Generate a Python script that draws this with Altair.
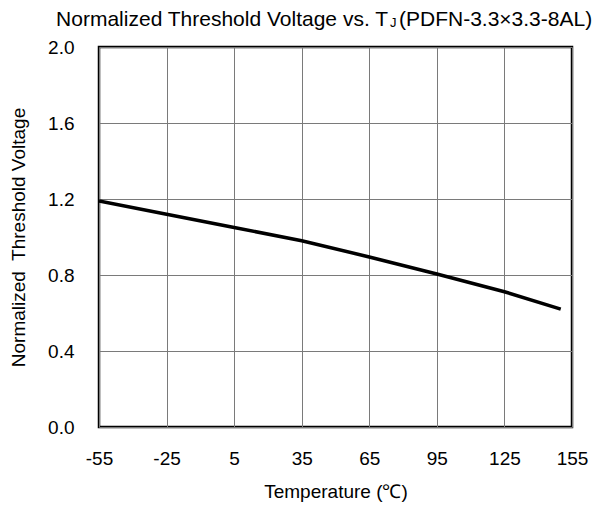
import altair as alt
import pandas as pd

temps = [-55, -25, 5, 35, 65, 95, 125, 150]
vth = [1.19, 1.12, 1.05, 0.98, 0.895, 0.805, 0.712, 0.62]
x_ticks = [-55, -25, 5, 35, 65, 95, 125, 155]
y_ticks = [0.0, 0.4, 0.8, 1.2, 1.6, 2.0]

df = pd.DataFrame({"t": temps, "v": vth})
one = pd.DataFrame({"k": [0]})
FONT = "Liberation Sans"
FS = 19

line = alt.Chart(df).mark_line(color="black", strokeWidth=3.5, clip=True).encode(
    x=alt.X("t:Q", scale=alt.Scale(domain=[-55, 155], nice=False),
            axis=alt.Axis(values=x_ticks, title="Temperature (℃)", grid=True,
                          labelExpr="'' + datum.value",
                          gridColor="#7a7a7a", gridWidth=1, domain=False, ticks=False,
                          labelFontSize=FS, labelPadding=22, labelColor="black",
                          labelFont=FONT, titleFont=FONT, titleFontSize=FS,
                          titleFontWeight="normal", titleColor="black", titlePadding=14,
                          labelFlush=False)),
    y=alt.Y("v:Q", scale=alt.Scale(domain=[0, 2], nice=False),
            axis=alt.Axis(values=y_ticks, format=".1f",
                          title="Normalized\u00a0 Threshold Voltage",
                          grid=True, gridColor="#7a7a7a", gridWidth=1, domain=False, ticks=False,
                          labelFontSize=FS, labelPadding=25, labelColor="black",
                          labelFont=FONT, titleFont=FONT, titleFontSize=FS,
                          titleFontWeight="normal", titleColor="black", titlePadding=19,
                          labelFlush=False)),
)

t1 = alt.Chart(one).mark_text(text="Normalized Threshold Voltage vs. T", align="right",
                              baseline="alphabetic", font=FONT, fontSize=21,
                              fontWeight="normal", color="black").encode(
    x=alt.value(289), y=alt.value(-21))
t2 = alt.Chart(one).mark_text(text="J", align="left", baseline="alphabetic", font=FONT,
                              fontSize=13, fontWeight="normal", color="black").encode(
    x=alt.value(291), y=alt.value(-20))
t3 = alt.Chart(one).mark_text(text="(PDFN-3.3×3.3-8AL)", align="left", baseline="alphabetic",
                              font=FONT, fontSize=21, fontWeight="normal", color="black").encode(
    x=alt.value(300), y=alt.value(-21))

chart = alt.layer(line, t1, t2, t3).properties(
    width=473, height=380,
    autosize=alt.AutoSizeParams(type="none"),
    padding={"left": 91, "top": 39, "right": 23, "bottom": 75},
    background="white",
).configure_view(stroke="black", strokeWidth=2.5)

chart.save("out.html", embed_options={"renderer": "svg", "actions": False})
